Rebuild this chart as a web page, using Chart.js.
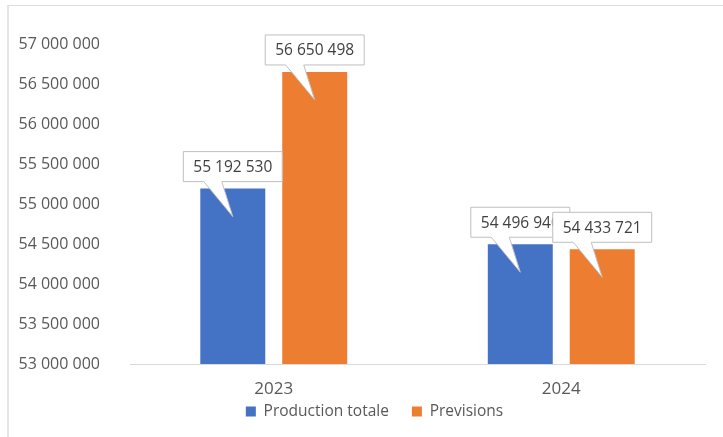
<!DOCTYPE html>
<html>
<head>
<meta charset="utf-8">
<script src="https://cdn.jsdelivr.net/npm/chart.js@4.4.1/dist/chart.umd.min.js"></script>
<style>
  body { margin: 0; background: #fff; }
  #frame { position: absolute; left: 7px; top: 5px; width: 730px; height: 440px;
           border-top: 1px solid #dedede; border-left: 2px solid #e6e6e6; }
  #wrap { position: absolute; left: 0; top: 0; width: 723px; height: 437px; }
</style>
</head>
<body>
<div id="frame"></div>
<div id="wrap"><canvas id="chart" width="723" height="437"></canvas></div>
<script>
const years = ['2023', '2024'];
const production = [55192530, 54496940];
const previsions = [56650498, 54433721];
const yTicks = [53000000, 53500000, 54000000, 54500000, 55000000, 55500000, 56000000, 56500000, 57000000];

const FONT = "'Open Sans', 'Liberation Sans', sans-serif";

function fmt(v) {
    return String(v).replace(/\B(?=(\d{3})+(?!\d))/g, ' ');
}

// callout boxes over each bar (Excel style)
const callouts = {
    id: 'callouts',
    afterLayout(chart) {
        // legend sits a bit higher and further right than chart.js puts it
        const lg = chart.legend;
        const dx = 18;
        const top = 411.5 - lg.options.labels.padding - 7.75;
        lg.left += dx; lg.right += dx;
        lg.bottom = top + lg.height; lg.top = top;
    },
    afterDatasetsDraw(chart) {
        const ctx = chart.ctx;
        ctx.save();
        ctx.font = '15.5px ' + FONT;
        chart.data.datasets.forEach((ds, di) => {
            const meta = chart.getDatasetMeta(di);
            meta.data.forEach((bar, i) => {
                const txt = fmt(ds.data[i]);
                const w = ctx.measureText(txt).width + 20;
                const h = 30;
                const cx = bar.x;
                const bottom = bar.y - 7;
                const top = bottom - h;
                const left = cx - w / 2;
                const right = cx + w / 2;
                ctx.beginPath();
                ctx.moveTo(left, top);
                ctx.lineTo(right, top);
                ctx.lineTo(right, bottom);
                ctx.lineTo(cx - 11, bottom);
                ctx.lineTo(cx, bar.y + 28);
                ctx.lineTo(cx - 29, bottom);
                ctx.lineTo(left, bottom);
                ctx.closePath();
                ctx.fillStyle = '#ffffff';
                ctx.fill();
                ctx.strokeStyle = '#bfbfbf';
                ctx.lineWidth = 1;
                ctx.stroke();
                ctx.fillStyle = '#404040';
                ctx.textAlign = 'center';
                ctx.textBaseline = 'middle';
                ctx.fillText(txt, cx, top + h / 2 + 1);
            });
        });
        ctx.restore();
    }
};

const ctx = document.getElementById('chart').getContext('2d');
new Chart(ctx, {
    type: 'bar',
    data: {
        labels: years,
        datasets: [
            { label: 'Production totale', data: production, backgroundColor: '#4472C4' },
            { label: 'Previsions', data: previsions, backgroundColor: '#ED7D31' }
        ]
    },
    options: {
        responsive: false,
        animation: false,
        layout: { padding: { left: 8, right: 18, top: 44, bottom: -15.5 } },
        datasets: { bar: { categoryPercentage: 0.57, barPercentage: 0.793 } },
        scales: {
            x: {
                grid: { display: false, drawTicks: false },
                border: { display: true, color: '#d9d9d9', width: 1 },
                ticks: { color: '#595959', font: { family: FONT, size: 17 }, padding: 14.5 },
                afterFit: (s) => { s.height = 40; }
            },
            y: {
                min: 53000000,
                max: 57000000,
                afterBuildTicks: (s) => { s.ticks = yTicks.map(v => ({ value: v })); },
                grid: { display: false, drawTicks: false },
                border: { display: false },
                ticks: { color: '#595959', font: { family: FONT, size: 16 }, padding: 30,
                         callback: (v) => fmt(v) },
                afterFit: (s) => { s.width = 122; }
            }
        },
        plugins: {
            tooltip: { enabled: false },
            legend: {
                position: 'bottom',
                labels: { boxWidth: 10, boxHeight: 10, padding: 23, color: '#595959',
                          font: { family: FONT, size: 15.5 } }
            }
        }
    },
    plugins: [callouts]
});
</script>
</body>
</html>
